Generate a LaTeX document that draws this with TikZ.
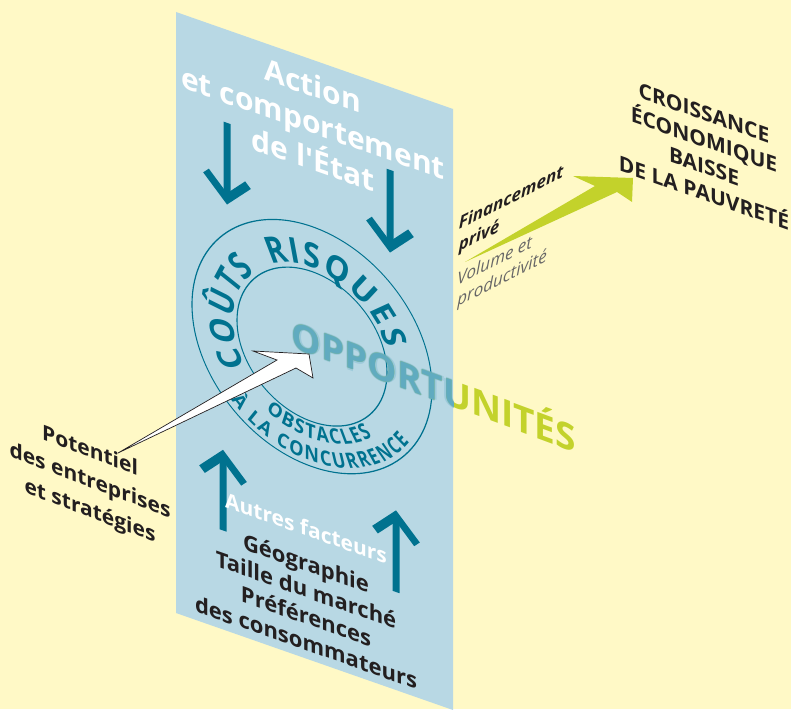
\documentclass[tikz,border=0pt]{standalone}
\usepackage{fontspec}
\setmainfont{Open Sans}
\newfontfamily\ringfont{Open Sans}[FakeStretch=0.9]
\usetikzlibrary{decorations.text}

\definecolor{paper}{HTML}{FFF9C6}
\definecolor{panel}{HTML}{B8D8E4}
\definecolor{petrol}{HTML}{00728F}
\definecolor{ghost}{HTML}{5DAAC6}
\definecolor{leaf}{HTML}{C3D22B}
\definecolor{ink}{HTML}{231F20}
\definecolor{mute}{HTML}{666666}

\newcommand\fsz[2]{\fontsize{#1}{#2}\selectfont}
\newcommand\ringbig{\ringfont\bfseries\fsz{34}{34}}
\newcommand\ringsmall{\ringfont\bfseries\fsz{20}{20}}

\begin{document}
\begin{tikzpicture}[x=1pt,y=1pt,
  every node/.style={inner sep=0pt},
  shaft/.style={draw=petrol,line width=7pt},
  barb/.style={draw=petrol,line width=8pt,miter limit=10},
  ring/.style={draw=petrol,line width=1.1pt},
  bigword/.style={font=\bfseries\fsz{37}{37},yslant=-0.37},
  ringtext/.style={decorate,decoration={text along path,text align={fit to path},text color=petrol,text={#1}}}]

\useasboundingbox (0,0) rectangle (791,-709);
\fill[paper] (0,0) rectangle (791,-709);

% the slanted plane
\fill[panel] (176,-12) -- (453,-109) -- (453,-710) -- (176,-613) -- cycle;

% everything that lies in the plane, drawn in its own frame
\begin{scope}[transform canvas={shift={(176,-12)},yslant=-0.35}]
  \node[font=\bfseries\fsz{30}{37},text=white,align=center] (state) at (137,-62.5)
    {Action\\et comportement\\de l\textquotesingle État};

  % downward arrows
  \foreach \u/\a/\b in {51/93/175,214/83/166}{
    \draw[shaft] (\u,-\a) -- (\u,-\b+6);
    \draw[barb] (\u-21,-\b+27) -- (\u,-\b+6) -- (\u+21,-\b+27);
  }
  % upward arrows
  \foreach \u/\a/\b in {47/502/421,220/503/421}{
    \draw[shaft] (\u,-\a) -- (\u,-\b-6);
    \draw[barb] (\u-21,-\b-27) -- (\u,-\b-6) -- (\u+21,-\b-27);
  }

  % rings
  \coordinate (core) at (136,-287);
  \draw[ring] (core) circle[radius=120];
  \draw[ring] (core) circle[radius=75];
  \path[ringtext={|\ringbig|COÛTS}] (core) ++(214:79) arc[start angle=214,end angle=136,radius=79];
  \path[ringtext={|\ringbig|RISQUES}] (core) ++(121:79) arc[start angle=121,end angle=19,radius=79];
  \path[ringtext={|\ringsmall|OBSTACLES}] (core) ++(240:92) arc[start angle=240,end angle=311,radius=92];
  \path[ringtext={|\ringsmall|À LA CONCURRENCE}] (core) ++(225:115) arc[start angle=225,end angle=328,radius=115];

  \node[font=\bfseries\fsz{21}{21},text=white] (other) at (130,-470.5) {Autres facteurs};
  \node[font=\bfseries\fsz{22}{26.5},text=ink,align=center] (factors) at (130,-545)
    {Géographie\\Taille du marché\\Préférences\\des consommateurs};
\end{scope}

% the word crossing the plane
\node[bigword,text=leaf] (opp) at (434,-383) {OPPORTUNITÉS};
\begin{scope}
  \clip (176,-12) -- (453,-109) -- (453,-710) -- (176,-613) -- cycle;
  \foreach \dx/\dy [count=\i] in {-1.3/0,1.3/0,0/-1.3,0/1.3}
    \node[bigword,text=ghost,opacity=0.3] (oppblur\i) at (434+\dx,-383+\dy) {OPPORTUNITÉS};
  \node[bigword,text=ghost,opacity=0.85] (oppin) at (434,-383) {OPPORTUNITÉS};
\end{scope}

% outcome
\node[yslant=-0.35,align=center,font=\bfseries\fsz{21}{26.7},text=ink] (goal) at (704,-153)
  {CROISSANCE\\ÉCONOMIQUE\\BAISSE\\DE LA PAUVRETÉ};

% private finance arrow and labels
\fill[leaf] (465,-262) -- (595,-186) -- (573,-176) -- (633,-178) -- (632,-202) -- (617,-192) -- cycle;
\node[yslant=0.5,align=left,font=\bfseries\itshape\fsz{17}{22},text=ink] (fin) at (511,-210) {Financement\\privé};
\node[yslant=0.5,align=left,font=\itshape\fsz{17}{21},text=mute] (vol) at (502,-269) {Volume et\\productivité};

% firms
\node[yslant=-0.38,align=center,font=\bfseries\fsz{21}{30},text=ink] (firms) at (90,-482)
  {Potentiel\\des entreprises\\et stratégies};
\filldraw[fill=white,draw=ink,line width=0.7pt,line join=miter]
  (118,-453) -- (277,-360) -- (253,-351) -- (309,-354) -- (313,-378) -- (296,-368) -- cycle;
\end{tikzpicture}
\end{document}
